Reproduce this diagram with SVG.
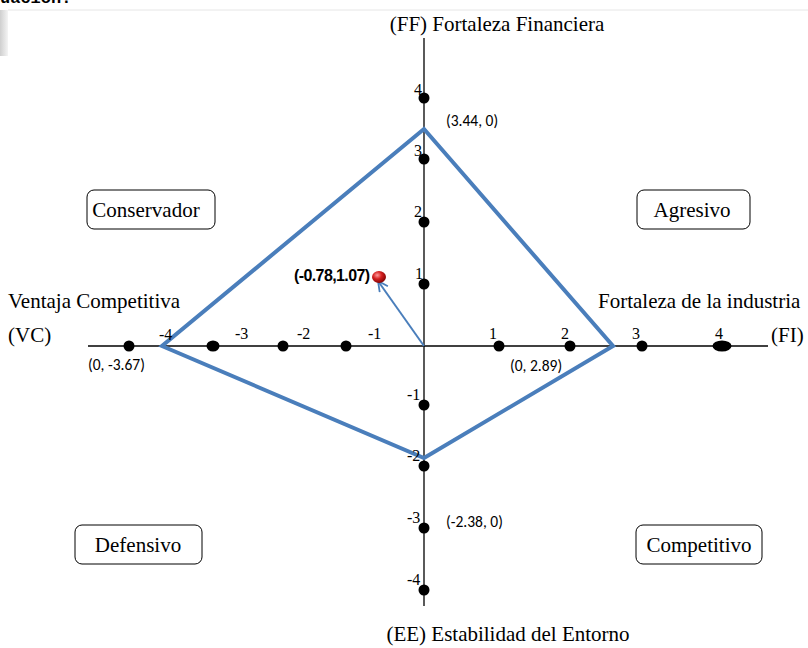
<svg xmlns="http://www.w3.org/2000/svg" width="808" height="648" viewBox="0 0 808 648">
<style>
.serif{font-family:"Liberation Serif","Times New Roman",serif;font-size:21px;fill:#000}
.tick{font-family:"Liberation Serif","Times New Roman",serif;font-size:16px;fill:#000}
.sans{font-family:"Carlito","Liberation Sans","Open Sans",sans-serif;font-size:15.5px;fill:#000}
.box{fill:#fff;stroke:#000;stroke-width:1}
.axis{stroke:#000;stroke-width:1.3;fill:none}
.dot{fill:#000}
</style>
<defs>
<radialGradient id="ball" cx="0.38" cy="0.35" r="0.7">
<stop offset="0" stop-color="#ff9a9a"/>
<stop offset="0.45" stop-color="#d42020"/>
<stop offset="1" stop-color="#7a0000"/>
</radialGradient>
<linearGradient id="edge" x1="0" y1="0" x2="1" y2="0">
<stop offset="0" stop-color="#cfcfcf"/>
<stop offset="1" stop-color="#f4f4f4"/>
</linearGradient>
<marker id="arr" viewBox="0 0 12 12" refX="11" refY="6" markerWidth="12" markerHeight="12" markerUnits="userSpaceOnUse" orient="auto">
<path d="M1,1 L11,6 L1,11" fill="none" stroke="#4a7ebb" stroke-width="1.8"/>
</marker>
</defs>
<rect width="808" height="648" fill="#fff"/>
<text x="0" y="3" style="font-family:'Liberation Mono',monospace;font-size:17px;font-weight:bold">uación.</text>
<line x1="8" y1="10" x2="808" y2="10" stroke="#e6e6e6" stroke-width="1"/>
<rect x="0" y="10" width="8" height="46" fill="url(#edge)"/>

<g id="connectors">
<line class="axis" x1="88" y1="346" x2="768" y2="346"/>
<line class="axis" x1="424" y1="38" x2="424" y2="606"/>
<polygon points="424,129 613,346 424,458 162,346" fill="none" stroke="#4a7ebb" stroke-width="4" stroke-linejoin="miter"/>
<line x1="424" y1="346" x2="378" y2="281" stroke="#4a7ebb" stroke-width="2" marker-end="url(#arr)"/>
</g>

<g id="ticks-vertical">
<circle class="dot" cx="424" cy="98" r="5.5"/><text class="tick" x="414" y="95">4</text>
<circle class="dot" cx="424" cy="159" r="5.5"/><text class="tick" x="414" y="156">3</text>
<circle class="dot" cx="424" cy="222" r="5.5"/><text class="tick" x="414" y="217">2</text>
<circle class="dot" cx="424" cy="284" r="5.5"/><text class="tick" x="415" y="279">1</text>
<circle class="dot" cx="424" cy="405" r="5.5"/><text class="tick" x="407" y="400">-1</text>
<circle class="dot" cx="424" cy="466" r="5.5"/><text class="tick" x="407" y="461">-2</text>
<circle class="dot" cx="424" cy="528" r="5.5"/><text class="tick" x="407" y="523">-3</text>
<circle class="dot" cx="424" cy="590" r="5.5"/><text class="tick" x="407" y="585">-4</text>
</g>

<g id="ticks-horizontal">
<circle class="dot" cx="129" cy="346" r="5.5"/>
<text class="tick" x="159" y="340">-4</text>
<ellipse class="dot" cx="213" cy="346" rx="6.5" ry="5.5"/><text class="tick" x="235" y="339">-3</text>
<circle class="dot" cx="283" cy="346" r="5.5"/><text class="tick" x="297" y="339">-2</text>
<circle class="dot" cx="346" cy="346" r="5.5"/><text class="tick" x="368" y="339">-1</text>
<circle class="dot" cx="499" cy="346" r="5.5"/><text class="tick" x="489" y="339">1</text>
<circle class="dot" cx="570" cy="346" r="5.5"/><text class="tick" x="561" y="339">2</text>
<circle class="dot" cx="642" cy="346" r="5.5"/><text class="tick" x="632" y="339">3</text>
<ellipse class="dot" cx="722" cy="346" rx="9.5" ry="5.5"/><text class="tick" x="715" y="339">4</text>
</g>

<g id="point">
<ellipse cx="379" cy="277" rx="7" ry="6" fill="url(#ball)"/>
<text x="294" y="281" style="font-family:'Liberation Sans',Arial,sans-serif;font-size:16px;font-weight:bold;letter-spacing:-0.6px">(-0.78,1.07)</text>
</g>

<g id="vertex-labels">
<text class="sans" x="446" y="126">(3.44, 0)</text>
<text class="sans" x="88" y="370">(0, -3.67)</text>
<text class="sans" x="510" y="371">(0, 2.89)</text>
<text class="sans" x="446" y="527">(-2.38, 0)</text>
</g>

<g id="axis-labels">
<text class="serif" x="497" y="31" text-anchor="middle">(FF) Fortaleza Financiera</text>
<text class="serif" x="508" y="641" text-anchor="middle">(EE) Estabilidad del Entorno</text>
<text class="serif" x="8" y="308">Ventaja Competitiva</text>
<text class="serif" x="8" y="342">(VC)</text>
<text class="serif" x="598" y="308">Fortaleza de la industria</text>
<text class="serif" x="771" y="342">(FI)</text>
</g>

<g id="node-conservador">
<rect class="box" x="87" y="190" width="128" height="39" rx="7"/>
<text class="serif" x="146" y="217" text-anchor="middle">Conservador</text>
</g>
<g id="node-agresivo">
<rect class="box" x="637" y="190" width="113" height="39" rx="7"/>
<text class="serif" x="692" y="217" text-anchor="middle">Agresivo</text>
</g>
<g id="node-defensivo">
<rect class="box" x="75" y="525" width="127" height="39" rx="7"/>
<text class="serif" x="138" y="552" text-anchor="middle">Defensivo</text>
</g>
<g id="node-competitivo">
<rect class="box" x="636" y="525" width="126" height="39" rx="7"/>
<text class="serif" x="699" y="552" text-anchor="middle">Competitivo</text>
</g>
</svg>
